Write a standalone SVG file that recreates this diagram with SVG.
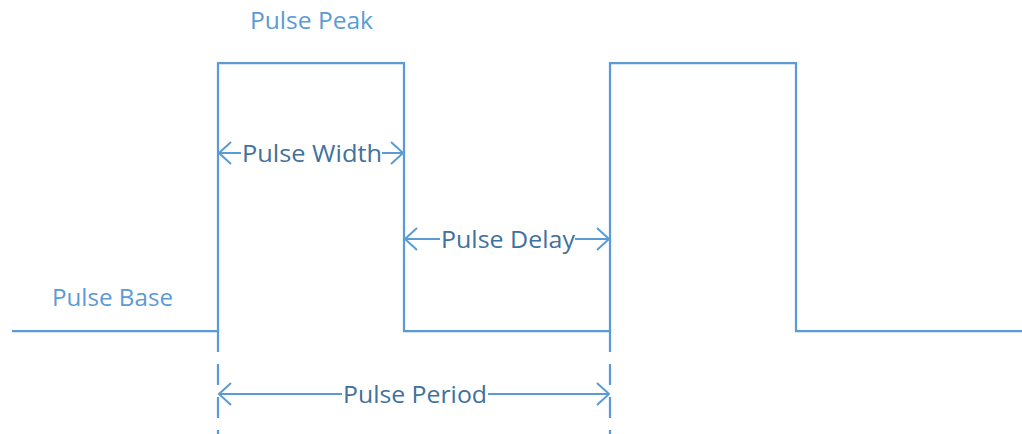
<svg xmlns="http://www.w3.org/2000/svg" width="1022" height="434" viewBox="0 0 1022 434">
<style>
.w{fill:none;stroke:#5B9BD5;stroke-width:2.25;stroke-linejoin:miter}
.d{fill:none;stroke:#5B9BD5;stroke-width:2.25;stroke-dasharray:21 12}
.a{fill:none;stroke:#5B9BD5;stroke-width:2}
.t1{font-family:"Open Sans","Liberation Sans",sans-serif;font-size:24px;fill:#5B9BD5}
.t2{font-family:"Open Sans","Liberation Sans",sans-serif;font-size:24px;fill:#41719C}
</style>
<rect width="1022" height="434" fill="#fff"/>
<g id="waveform">
<polyline class="w" points="12,331 218,331 218,63 404,63 404,331 610,331 610,63 796,63 796,331 1022,331"/>
</g>
<g id="connectors">
<line class="d" x1="218" y1="331" x2="218" y2="434"/>
<line class="d" x1="610" y1="331" x2="610" y2="434"/>
<line class="a" x1="219" y1="153" x2="241" y2="153"/>
<line class="a" x1="382" y1="153" x2="403" y2="153"/>
<polyline class="a" points="231,142 219,153 231,164"/>
<polyline class="a" points="391,142 403,153 391,164"/>
<line class="a" x1="405" y1="239" x2="440" y2="239"/>
<line class="a" x1="575" y1="239" x2="609" y2="239"/>
<polyline class="a" points="417,228 405,239 417,250"/>
<polyline class="a" points="597,228 609,239 597,250"/>
<line class="a" x1="219" y1="394" x2="342" y2="394"/>
<line class="a" x1="488" y1="394" x2="609" y2="394"/>
<polyline class="a" points="231,383 219,394 231,405"/>
<polyline class="a" points="597,383 609,394 597,405"/>
</g>
<g id="label-peak"><text class="t1" x="250" y="29" textLength="123" lengthAdjust="spacingAndGlyphs">Pulse Peak</text></g>
<g id="label-base"><text class="t1" x="52" y="306" textLength="121" lengthAdjust="spacingAndGlyphs">Pulse Base</text></g>
<g id="label-width"><text class="t2" x="242" y="162" textLength="140" lengthAdjust="spacingAndGlyphs">Pulse Width</text></g>
<g id="label-delay"><text class="t2" x="441" y="248" textLength="134" lengthAdjust="spacingAndGlyphs">Pulse Delay</text></g>
<g id="label-period"><text class="t2" x="343" y="403" textLength="144" lengthAdjust="spacingAndGlyphs">Pulse Period</text></g>
</svg>
